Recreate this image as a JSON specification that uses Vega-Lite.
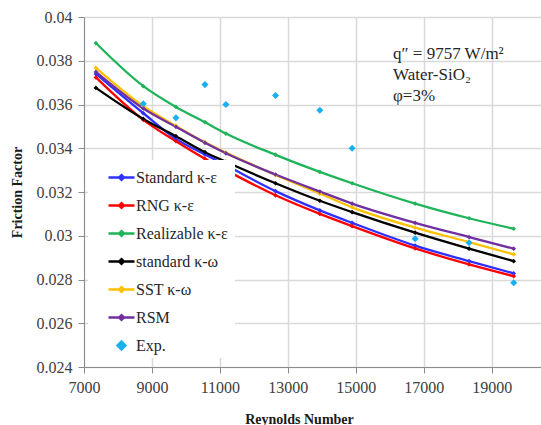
{
  "$schema": "https://vega.github.io/schema/vega-lite/v6.json",
  "width": 457,
  "height": 350,
  "autosize": {"type": "none"},
  "padding": {"left": 84, "top": 17, "right": 0, "bottom": 58},
  "background": "white",
  "title": {
    "text": ["q″ = 9757 W/m²", "Water-SiO₂", "φ=3%"],
    "orient": "top",
    "anchor": "start",
    "frame": "group",
    "align": "left",
    "baseline": "top",
    "offset": 0,
    "dx": 309,
    "dy": 96,
    "font": "Liberation Serif",
    "fontSize": 17,
    "fontWeight": "normal",
    "lineHeight": 21,
    "color": "#262626"
  },
  "config": {
    "view": {"stroke": null},
    "font": "Liberation Serif",
    "axis": {
      "gridColor": "#d9d9d9",
      "gridWidth": 1.5,
      "domainColor": "#8c8c8c",
      "domainWidth": 1,
      "tickColor": "#8c8c8c",
      "tickSize": 6,
      "labelFont": "Liberation Serif",
      "labelFontSize": 16,
      "labelColor": "#404040",
      "labelFlush": false,
      "titleFont": "Liberation Serif",
      "titleFontSize": 14,
      "titleFontWeight": "bold",
      "titleColor": "#1a1a1a"
    }
  },
  "data": {"values": [
      {"Re": 7350, "f": 0.03740, "model": "Standard κ-ε"},
      {"Re": 8745, "f": 0.03560, "model": "Standard κ-ε"},
      {"Re": 9706, "f": 0.03443, "model": "Standard κ-ε"},
      {"Re": 10560, "f": 0.03371, "model": "Standard κ-ε"},
      {"Re": 11176, "f": 0.03322, "model": "Standard κ-ε"},
      {"Re": 12637, "f": 0.03204, "model": "Standard κ-ε"},
      {"Re": 13941, "f": 0.03116, "model": "Standard κ-ε"},
      {"Re": 14891, "f": 0.03059, "model": "Standard κ-ε"},
      {"Re": 16745, "f": 0.02955, "model": "Standard κ-ε"},
      {"Re": 18333, "f": 0.02884, "model": "Standard κ-ε"},
      {"Re": 19647, "f": 0.02828, "model": "Standard κ-ε"},
      {"Re": 7350, "f": 0.03724, "model": "RNG κ-ε"},
      {"Re": 8745, "f": 0.03530, "model": "RNG κ-ε"},
      {"Re": 9706, "f": 0.03432, "model": "RNG κ-ε"},
      {"Re": 10560, "f": 0.03352, "model": "RNG κ-ε"},
      {"Re": 11176, "f": 0.03300, "model": "RNG κ-ε"},
      {"Re": 12637, "f": 0.03185, "model": "RNG κ-ε"},
      {"Re": 13941, "f": 0.03100, "model": "RNG κ-ε"},
      {"Re": 14891, "f": 0.03044, "model": "RNG κ-ε"},
      {"Re": 16745, "f": 0.02942, "model": "RNG κ-ε"},
      {"Re": 18333, "f": 0.02869, "model": "RNG κ-ε"},
      {"Re": 19647, "f": 0.02815, "model": "RNG κ-ε"},
      {"Re": 7350, "f": 0.03881, "model": "Realizable  κ-ε"},
      {"Re": 8745, "f": 0.03684, "model": "Realizable  κ-ε"},
      {"Re": 9706, "f": 0.03589, "model": "Realizable  κ-ε"},
      {"Re": 10560, "f": 0.03519, "model": "Realizable  κ-ε"},
      {"Re": 11176, "f": 0.03467, "model": "Realizable  κ-ε"},
      {"Re": 12637, "f": 0.03370, "model": "Realizable  κ-ε"},
      {"Re": 13941, "f": 0.03292, "model": "Realizable  κ-ε"},
      {"Re": 14891, "f": 0.03240, "model": "Realizable  κ-ε"},
      {"Re": 16745, "f": 0.03147, "model": "Realizable  κ-ε"},
      {"Re": 18333, "f": 0.03080, "model": "Realizable  κ-ε"},
      {"Re": 19647, "f": 0.03032, "model": "Realizable  κ-ε"},
      {"Re": 7350, "f": 0.03676, "model": "standard κ-ω"},
      {"Re": 8745, "f": 0.03534, "model": "standard κ-ω"},
      {"Re": 9706, "f": 0.03455, "model": "standard κ-ω"},
      {"Re": 10560, "f": 0.03382, "model": "standard κ-ω"},
      {"Re": 11176, "f": 0.03338, "model": "standard κ-ω"},
      {"Re": 12637, "f": 0.03240, "model": "standard κ-ω"},
      {"Re": 13941, "f": 0.03160, "model": "standard κ-ω"},
      {"Re": 14891, "f": 0.03108, "model": "standard κ-ω"},
      {"Re": 16745, "f": 0.03014, "model": "standard κ-ω"},
      {"Re": 18333, "f": 0.02941, "model": "standard κ-ω"},
      {"Re": 19647, "f": 0.02884, "model": "standard κ-ω"},
      {"Re": 7350, "f": 0.03767, "model": "SST κ-ω"},
      {"Re": 8745, "f": 0.03592, "model": "SST κ-ω"},
      {"Re": 9706, "f": 0.03502, "model": "SST κ-ω"},
      {"Re": 10560, "f": 0.03427, "model": "SST κ-ω"},
      {"Re": 11176, "f": 0.03380, "model": "SST κ-ω"},
      {"Re": 12637, "f": 0.03278, "model": "SST κ-ω"},
      {"Re": 13941, "f": 0.03193, "model": "SST κ-ω"},
      {"Re": 14891, "f": 0.03130, "model": "SST κ-ω"},
      {"Re": 16745, "f": 0.03037, "model": "SST κ-ω"},
      {"Re": 18333, "f": 0.02971, "model": "SST κ-ω"},
      {"Re": 19647, "f": 0.02915, "model": "SST κ-ω"},
      {"Re": 7350, "f": 0.03749, "model": "RSM"},
      {"Re": 8745, "f": 0.03582, "model": "RSM"},
      {"Re": 9706, "f": 0.03498, "model": "RSM"},
      {"Re": 10560, "f": 0.03425, "model": "RSM"},
      {"Re": 11176, "f": 0.03377, "model": "RSM"},
      {"Re": 12637, "f": 0.03280, "model": "RSM"},
      {"Re": 13941, "f": 0.03202, "model": "RSM"},
      {"Re": 14891, "f": 0.03147, "model": "RSM"},
      {"Re": 16745, "f": 0.03059, "model": "RSM"},
      {"Re": 18333, "f": 0.02994, "model": "RSM"},
      {"Re": 19647, "f": 0.02941, "model": "RSM"},
      {"Re": 8745, "f": 0.03603, "model": "Exp."},
      {"Re": 9706, "f": 0.03539, "model": "Exp."},
      {"Re": 10560, "f": 0.03691, "model": "Exp."},
      {"Re": 11176, "f": 0.03600, "model": "Exp."},
      {"Re": 12637, "f": 0.03641, "model": "Exp."},
      {"Re": 13941, "f": 0.03574, "model": "Exp."},
      {"Re": 14891, "f": 0.03400, "model": "Exp."},
      {"Re": 16745, "f": 0.02986, "model": "Exp."},
      {"Re": 18333, "f": 0.02968, "model": "Exp."},
      {"Re": 19647, "f": 0.02785, "model": "Exp."}
  ]},
  "encoding": {
    "x": {
      "field": "Re", "type": "quantitative",
      "scale": {"domain": [7000, 20450], "nice": false, "zero": false},
      "axis": {
        "values": [7000, 9000, 11000, 13000, 15000, 17000, 19000],
        "format": "d",
        "title": "Reynolds Number",
        "labelPadding": 6,
        "titlePadding": 17,
        "titleX": 215
      }
    },
    "y": {
      "field": "f", "type": "quantitative",
      "scale": {"domain": [0.024, 0.04], "nice": false, "zero": false},
      "axis": {
        "values": [0.024, 0.026, 0.028, 0.03, 0.032, 0.034, 0.036, 0.038, 0.04],
        "format": "~g",
        "title": "Friction Factor",
        "labelPadding": 6,
        "titlePadding": 12
      }
    },
    "color": {
      "field": "model", "type": "nominal",
      "scale": {
        "domain": ["Standard κ-ε", "RNG κ-ε", "Realizable  κ-ε", "standard κ-ω", "SST κ-ω", "RSM", "Exp."],
        "range": ["#2f2fff", "#ff0000", "#1fb45a", "#000000", "#ffc000", "#7030a0", "#1ab0f0"]
      },
      "legend": {
        "orient": "none",
        "legendX": 4,
        "legendY": 143,
        "title": null,
        "padding": 3,
        "fillColor": "white",
        "symbolOffset": 16,
        "labelFont": "Liberation Serif",
        "labelFontSize": 16,
        "labelColor": "#262626",
        "labelOffset": 0,
        "symbolSize": 676,
        "rowPadding": 5,
        "encode": {
          "symbols": {
            "update": {
              "shape": {"signal": "datum.value === 'Exp.' ? 'M0,-0.3L0.3,0L0,0.3L-0.3,0Z' : 'M-1,0L1,0M0,-0.18L0.18,0L0,0.18L-0.18,0Z'"},
              "fill": {"scale": "color", "field": "value"},
              "stroke": {"signal": "datum.value === 'Exp.' ? 'transparent' : scale('color', datum.value)"},
              "strokeWidth": {"value": 2.5},
              "size": {"value": 676},
              "opacity": {"value": 1},
              "fillOpacity": {"value": 1}
            }
          }
        }
      }
    }
  },
  "layer": [
    {
      "transform": [{"filter": "datum.model !== 'Exp.'"}],
      "mark": {"type": "line", "interpolate": "monotone", "strokeWidth": 2.3}
    },
    {
      "transform": [{"filter": "datum.model !== 'Exp.'"}],
      "mark": {"type": "point", "shape": "diamond", "filled": true, "size": 22, "opacity": 1}
    },
    {
      "transform": [{"filter": "datum.model === 'Exp.'"}],
      "mark": {"type": "point", "shape": "diamond", "filled": true, "size": 50, "opacity": 1}
    }
  ]
}
